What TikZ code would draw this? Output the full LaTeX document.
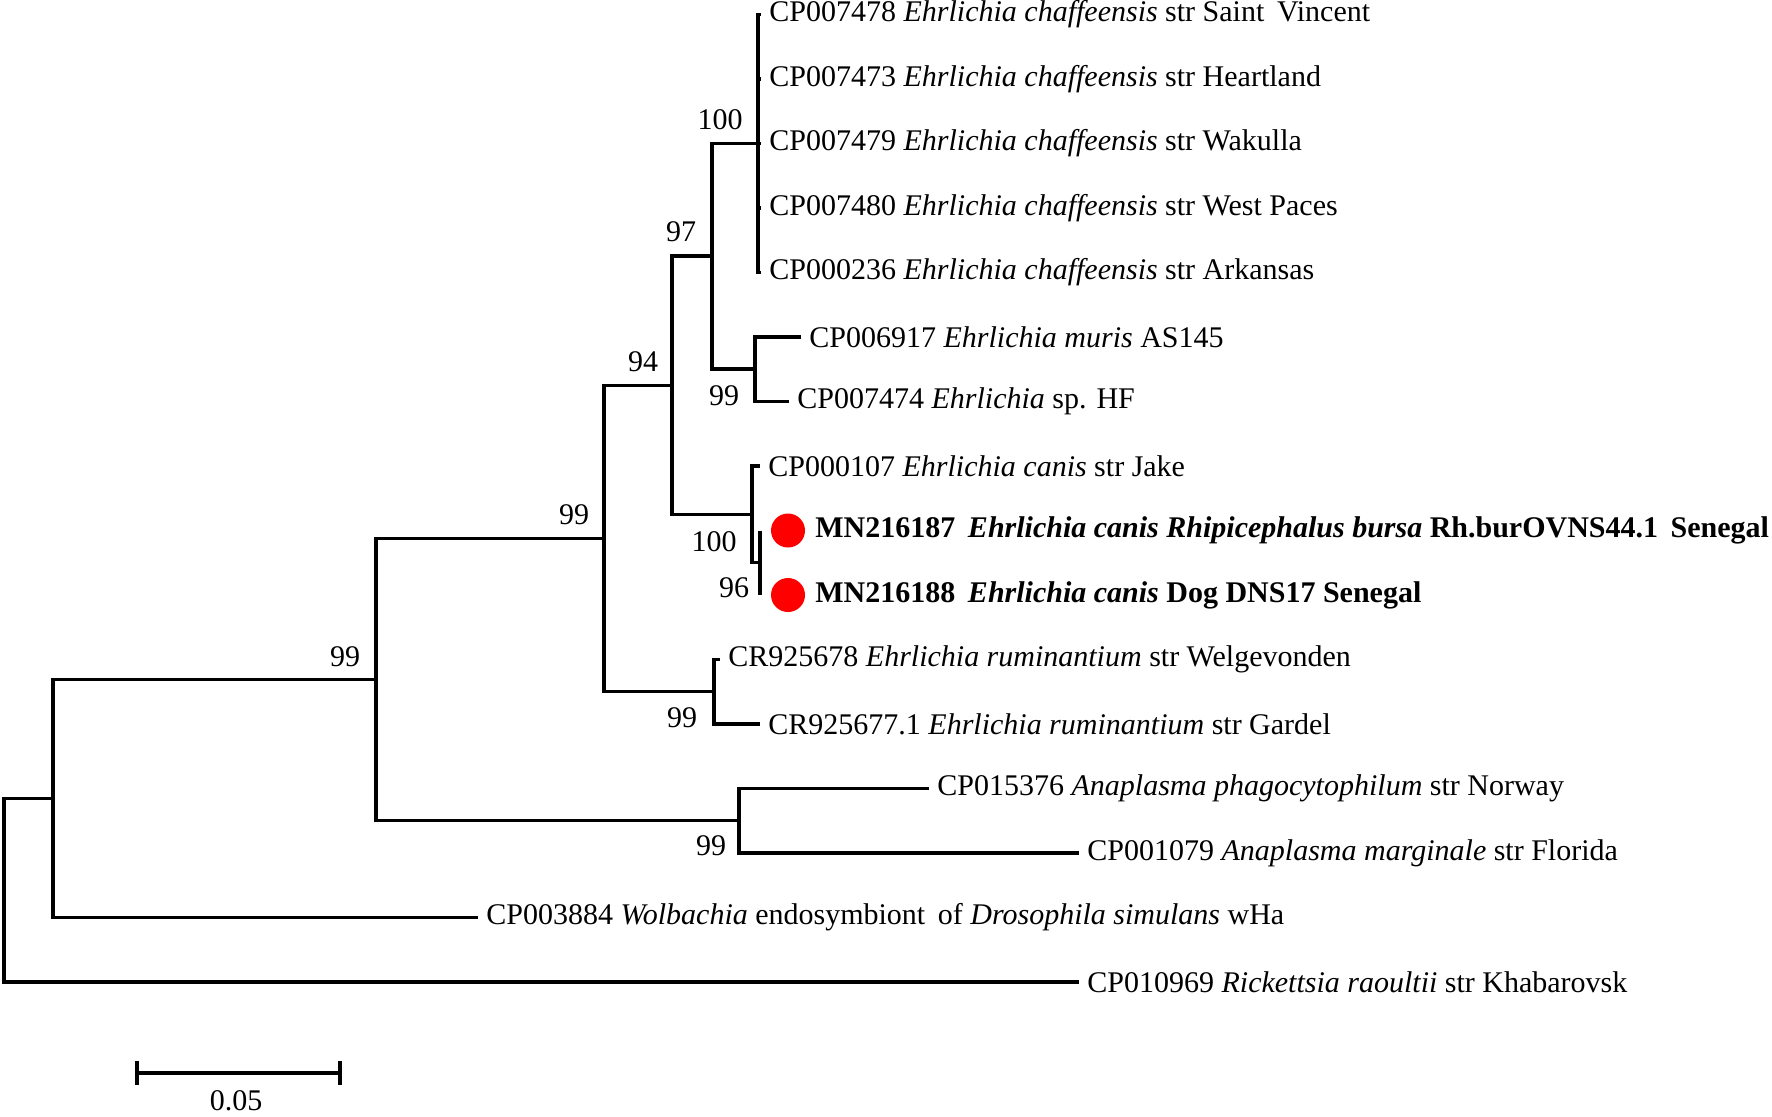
\documentclass[tikz,border=0pt]{standalone}
\usepackage{fontspec}
\setmainfont{Liberation Serif}
\newcommand\treefont{\fontsize{15}{18}\selectfont}
\newcommand\wsp{\hspace{0.42em}}
\begin{document}
\begin{tikzpicture}[x=0.5pt,y=-0.5pt,
  br/.style={line width=1.7pt, line join=miter},
  leaf/.style={anchor=west, inner xsep=4pt, inner ysep=0pt, font=\treefont},
  mnlab/.style={anchor=west, inner xsep=0pt, inner ysep=0pt, font=\treefont\bfseries},
  bs/.style={inner sep=0pt, font=\treefont},
  dot/.style={circle, fill=red, inner sep=0pt, minimum size=17pt},
]
\useasboundingbox (0,0) rectangle (1772,1116);
% leaves
\node[leaf] (l1) at (761,14.5) {CP007478 \textit{Ehrlichia chaffeensis} str Saint\wsp Vincent};
\node[leaf] (l2) at (761,79) {CP007473 \textit{Ehrlichia chaffeensis} str Heartland};
\node[leaf] (l3) at (761,143.5) {CP007479 \textit{Ehrlichia chaffeensis} str Wakulla};
\node[leaf] (l4) at (761,208) {CP007480 \textit{Ehrlichia chaffeensis} str West Paces};
\node[leaf] (l5) at (761,272.5) {CP000236 \textit{Ehrlichia chaffeensis} str Arkansas};
\node[leaf] (l6) at (801,337) {CP006917 \textit{Ehrlichia muris} AS145};
\node[leaf] (l7) at (789,401.5) {CP007474 \textit{Ehrlichia} sp. HF};
\node[leaf] (l8) at (760,466) {CP000107 \textit{Ehrlichia canis} str Jake};
\node[dot] (d1) at (788,530.5) {};
\node[mnlab] (m1) at (815,530.5) {MN216187\wsp\textit{Ehrlichia canis Rhipicephalus bursa} Rh.burOVNS44.1\wsp Senegal};
\node[dot] (d2) at (788,595) {};
\node[mnlab] (m2) at (815,595) {MN216188\wsp\textit{Ehrlichia canis} Dog DNS17 Senegal};
\node[leaf] (l11) at (720,659.5) {CR925678 \textit{Ehrlichia ruminantium} str Welgevonden};
\node[leaf] (l12) at (760,724) {CR925677.1 \textit{Ehrlichia ruminantium} str Gardel};
\node[leaf] (l13) at (929,788.5) {CP015376 \textit{Anaplasma phagocytophilum} str Norway};
\node[leaf] (l14) at (1079,853) {CP001079 \textit{Anaplasma marginale} str Florida};
\node[leaf] (l15) at (478,917.5) {CP003884 \textit{Wolbachia} endosymbiont\wsp of \textit{Drosophila simulans} wHa};
\node[leaf] (l16) at (1079,982) {CP010969 \textit{Rickettsia raoultii} str Khabarovsk};
% internal nodes
\coordinate (F) at (758,143.5);
\coordinate (G) at (755,369);
\coordinate (E) at (712,256);
\coordinate (I) at (760,562.75);
\coordinate (H) at (752,514.4);
\coordinate (D) at (672,385.2);
\coordinate (Rum) at (714,691.75);
\coordinate (C) at (604,538.5);
\coordinate (Ana) at (739,820.75);
\coordinate (B) at (376,679.6);
\coordinate (A) at (53,798.5);
\coordinate (root) at (4,890.25);
% branches
\draw[br] (l1.west) -| (F) |- (l5.west);
\draw[br] (F |- l2.west) -- (l2.west);
\draw[br] (F |- l3.west) -- (l3.west);
\draw[br] (F |- l4.west) -- (l4.west);
\draw[br] (l6.west) -| (G) |- (l7.west);
\draw[br] (F) -| (E) |- (G);
\draw[br] (I |- d1) -- (I |- d2);
\draw[br] (l8.west) -| (H) |- (I);
\draw[br] (E) -| (D) |- (H);
\draw[br] (l11.west) -| (Rum) |- (l12.west);
\draw[br] (D) -| (C) |- (Rum);
\draw[br] (l13.west) -| (Ana) |- (l14.west);
\draw[br] (C) -| (B) |- (Ana);
\draw[br] (B) -| (A) |- (l15.west);
\draw[br] (A) -| (root) |- (l16.west);
% bootstrap values
\node[bs] (b1) at (720,120) {100};
\node[bs] (b2) at (681,232) {97};
\node[bs] (b3) at (643,362) {94};
\node[bs] (b4) at (724,396) {99};
\node[bs] (b5) at (714,542) {100};
\node[bs] (b6) at (734,588) {96};
\node[bs] (b7) at (574,515) {99};
\node[bs] (b8) at (682,718) {99};
\node[bs] (b9) at (345,657) {99};
\node[bs] (b10) at (711,846) {99};
% scale bar
\coordinate (s1) at (137,1073);
\coordinate (s2) at (340,1073);
\draw[br] (s1) -- (s2);
\draw[br] ([yshift=6pt]s1) -- ([yshift=-6pt]s1);
\draw[br] ([yshift=6pt]s2) -- ([yshift=-6pt]s2);
\node[bs] (sl) at (236,1101) {0.05};
\end{tikzpicture}
\end{document}
